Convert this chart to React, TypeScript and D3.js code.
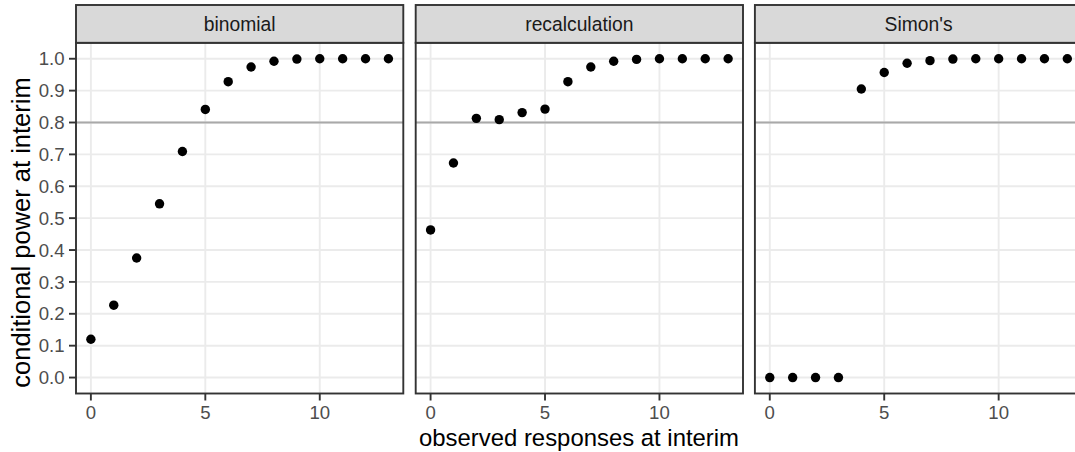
import React from "react";
import * as d3 from "d3";

const facets = ["binomial", "recalculation", "Simon's"];
const responses = [0, 1, 2, 3, 4, 5, 6, 7, 8, 9, 10, 11, 12, 13];
const binomialPower = [0.12, 0.227, 0.375, 0.545, 0.709, 0.841, 0.928, 0.974, 0.992, 0.999, 1.0, 1.0, 1.0, 1.0];
const recalcPower = [0.463, 0.673, 0.813, 0.809, 0.831, 0.842, 0.928, 0.974, 0.992, 0.998, 1.0, 1.0, 1.0, 1.0];
const simonPower = [0.0, 0.0, 0.0, 0.0, 0.905, 0.957, 0.986, 0.994, 0.999, 1.0, 1.0, 1.0, 1.0, 1.0];
const xTicks = [0, 5, 10];
const yTicks = [0, 0.1, 0.2, 0.3, 0.4, 0.5, 0.6, 0.7, 0.8, 0.9, 1.0];
const threshold = 0.8;

const series = [binomialPower, recalcPower, simonPower];

export default function App() {
  const W = 1075, H = 452;
  const panelW = 327.3;
  const panelLefts = [76, 415.7, 754.9];
  const stripTop = 5, stripBottom = 42.8, panelBottom = 393.5;
  const xDomain = [-0.65, 13.65];
  const y = d3.scaleLinear().domain([-0.05, 1.05]).range([panelBottom, stripBottom]);
  const lw = 1.9;
  const font = "Liberation Sans, Arial, Helvetica, sans-serif";

  return (
    <svg width={W} height={H} style={{ position: "absolute", left: 0, top: 0, background: "#fff" }} fontFamily={font}>
      {facets.map((f, i) => {
        const x0 = panelLefts[i];
        const x = d3.scaleLinear().domain(xDomain).range([x0, x0 + panelW]);
        const vals = series[i];
        return (
          <g key={f}>
            <rect x={x0} y={stripBottom} width={panelW} height={panelBottom - stripBottom} fill="#fff" />
            {yTicks.map((t) => (
              <line key={"gy" + t} x1={x0} x2={x0 + panelW} y1={y(t)} y2={y(t)} stroke="#EBEBEB" strokeWidth={lw} />
            ))}
            {xTicks.map((t) => (
              <line key={"gx" + t} x1={x(t)} x2={x(t)} y1={stripBottom} y2={panelBottom} stroke="#EBEBEB" strokeWidth={lw} />
            ))}
            <line x1={x0} x2={x0 + panelW} y1={y(threshold)} y2={y(threshold)} stroke="#A9A9A9" strokeWidth={lw} />
            {responses.map((r, j) => (
              <circle key={"p" + r} cx={x(r)} cy={y(vals[j])} r={4.7} fill="#000" />
            ))}
            <rect x={x0} y={stripBottom} width={panelW} height={panelBottom - stripBottom} fill="none" stroke="#333333" strokeWidth={lw} />
            <rect x={x0} y={stripTop} width={panelW} height={stripBottom - stripTop} fill="#D9D9D9" stroke="#333333" strokeWidth={lw} />
            <text x={x0 + panelW / 2} y={30.7} textAnchor="middle" fontSize={19.3} fill="#1A1A1A">{f}</text>
            {xTicks.map((t) => (
              <g key={"tx" + t}>
                <line x1={x(t)} x2={x(t)} y1={panelBottom} y2={panelBottom + 7} stroke="#333333" strokeWidth={lw} />
                <text x={x(t)} y={419.4} textAnchor="middle" fontSize={18.6} fill="#4D4D4D">{t}</text>
              </g>
            ))}
          </g>
        );
      })}
      {yTicks.map((t) => (
        <g key={"ty" + t}>
          <line x1={69} x2={76} y1={y(t)} y2={y(t)} stroke="#333333" strokeWidth={lw} />
          <text x={64.5} y={y(t)} dy="0.36em" textAnchor="end" fontSize={18.6} fill="#4D4D4D">{t.toFixed(1)}</text>
        </g>
      ))}
      <text x={579} y={446} textAnchor="middle" fontSize={23.9} fill="#000">observed responses at interim</text>
      <text transform={`translate(30, 232.5) rotate(-90)`} textAnchor="middle" fontSize={25.5} fill="#000">conditional power at interim</text>
    </svg>
  );
}
